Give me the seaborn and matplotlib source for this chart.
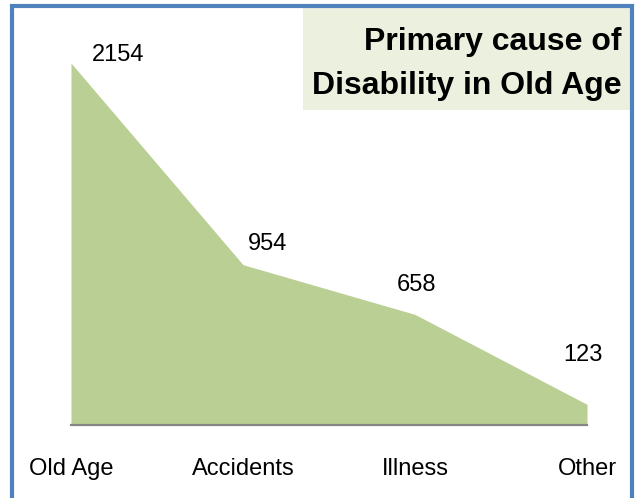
import seaborn as sns
import pandas as pd
import matplotlib.pyplot as plt
from matplotlib.patches import Rectangle

causes = ['Old Age', 'Accidents', 'Illness', 'Other']
counts = [2154, 954, 658, 123]
# label offsets in pixels, roughly where the spreadsheet put them
label_dx = [47, 25, 1, -4]
label_dy = [8, 21, 29, 49]

sns.set_style('white')
plt.rcParams['font.family'] = ['Liberation Sans', 'DejaVu Sans']
plt.rcParams['text.color'] = 'black'
plt.rcParams['xtick.color'] = 'black'

df = pd.DataFrame({'cause': causes, 'count': counts, 'pos': range(len(causes))})

fig = plt.figure(figsize=(6.36, 4.98), dpi=100)
ax = fig.add_axes([71 / 636, 73 / 498, 516 / 636, 405 / 498])

sns.lineplot(data=df, x='pos', y='count', ax=ax, color='#BACF93', linewidth=0)
ax.fill_between(df['pos'], df['count'], 0, color='#BACF93', linewidth=0)

ax.set_xlim(0, 3)
ax.set_ylim(0, 2410)
ax.set_xlabel('')
ax.set_ylabel('')
ax.set_yticks([])
ax.set_xticks(df['pos'])
ax.set_xticklabels(causes, fontsize=17, color='black')
ax.tick_params(axis='x', length=0, pad=24)
for s in ['top', 'right', 'left']:
    ax.spines[s].set_visible(False)
ax.spines['bottom'].set_color('#868686')
ax.spines['bottom'].set_linewidth(1.6)
ax.patch.set_alpha(0)

for p, c, dx, dy in zip(df['pos'], df['count'], label_dx, label_dy):
    ax.annotate(str(c), (p, c), xytext=(dx, dy), textcoords='offset pixels',
                ha='center', va='center', fontsize=17, color='black',
                annotation_clip=False)

# title box
fig.patches.append(Rectangle((303 / 636, 1 - 110 / 498), 328 / 636, 102 / 498,
                             transform=fig.transFigure, facecolor='#EBF1DE',
                             edgecolor='none', zorder=0))
fig.text(622 / 636, 1 - 42 / 498, 'Primary cause of', ha='right', va='center',
         fontsize=23, fontweight='bold', color='black')
fig.text(622 / 636, 1 - 86 / 498, 'Disability in Old Age', ha='right', va='center',
         fontsize=23, fontweight='bold', color='black')

# blue outer border
fig.patches.append(Rectangle((12 / 636, -0.05), 619.5 / 636, 1.05 - 6.5 / 498,
                             transform=fig.transFigure, facecolor='none',
                             edgecolor='#4F81BD', linewidth=3, zorder=5))

fig.savefig('out.png', dpi=100)
